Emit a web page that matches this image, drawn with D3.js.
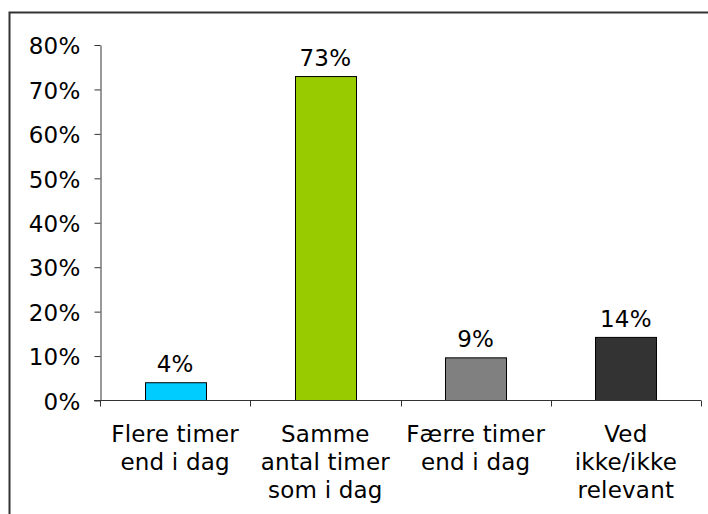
<!DOCTYPE html>
<html>
<head>
<meta charset="utf-8">
<script src="https://cdn.jsdelivr.net/npm/d3@7"></script>
<style>
html,body{margin:0;padding:0;background:#fff;overflow:hidden;}
svg{display:block;}
text{font-family:"DejaVu Sans",Verdana,sans-serif;fill:#000;letter-spacing:0.2px;}
</style>
</head>
<body>
<svg id="chart" width="708" height="514"></svg>
<script>
const categories = [
  ["Flere timer", "end i dag"],
  ["Samme", "antal timer", "som i dag"],
  ["Færre timer", "end i dag"],
  ["Ved", "ikke/ikke", "relevant"]
];
const values = [4.0, 72.9, 9.6, 14.2];
const valueLabels = ["4%", "73%", "9%", "14%"];
const colors = ["#00CCFF", "#99CC00", "#808080", "#333333"];
const yTicks = [0, 10, 20, 30, 40, 50, 60, 70, 80];

const svg = d3.select("#chart");
const fs = 23;

// outer frame
svg.append("rect")
  .attr("x", 9.5).attr("y", 12.5)
  .attr("width", 720).attr("height", 520)
  .attr("fill", "none").attr("stroke", "#333").attr("stroke-width", 2);

const xOuter = d3.scaleBand().domain(d3.range(categories.length)).range([100, 701]);
const y = d3.scaleLinear().domain([0, 80]).range([400, 44.5]);

// bars
svg.selectAll("rect.bar").data(values).join("rect")
  .attr("class", "bar")
  .attr("x", (d, i) => Math.round(xOuter(i) + xOuter.bandwidth() / 2 - 30.5) + 0.5)
  .attr("y", d => y(d) + 0.5)
  .attr("width", 61)
  .attr("height", d => y(0) - y(d))
  .attr("fill", (d, i) => colors[i])
  .attr("stroke", "#000").attr("stroke-width", 1);

// value labels
svg.selectAll("text.val").data(values).join("text")
  .attr("class", "val")
  .attr("x", (d, i) => xOuter(i) + xOuter.bandwidth() / 2)
  .attr("y", d => y(d) - 10)
  .attr("text-anchor", "middle")
  .attr("font-size", fs)
  .text((d, i) => valueLabels[i]);

// y axis
const yAxis = svg.append("g").attr("transform", "translate(100.5,0.5)")
  .call(d3.axisLeft(y).tickValues(yTicks).tickFormat(d => d + "%").tickSize(6).tickSizeOuter(0));
yAxis.select(".domain").attr("stroke", "#333");
yAxis.selectAll(".tick line").attr("stroke", "#333");
yAxis.selectAll(".tick text")
  .attr("font-size", fs)
  .attr("font-family", "DejaVu Sans, Verdana, sans-serif")
  .attr("fill", "#000")
  .attr("x", -20)
  .attr("dy", "0.38em");

// x axis
const xAxisG = svg.append("g").attr("transform", "translate(0," + (y(0) + 0.5) + ")");
xAxisG.append("line").attr("x1", 94).attr("x2", 701).attr("y1", 0).attr("y2", 0).attr("stroke", "#333");
const bounds = d3.range(categories.length + 1).map(i => i < categories.length ? xOuter(i) : xOuter.range()[1]);
xAxisG.selectAll("line.tick").data(bounds).join("line")
  .attr("class", "tick")
  .attr("x1", d => Math.round(d) + 0.5).attr("x2", d => Math.round(d) + 0.5)
  .attr("y1", 0).attr("y2", 6).attr("stroke", "#333");

// category labels
categories.forEach((lines, i) => {
  const t = svg.append("text")
    .attr("text-anchor", "middle")
    .attr("font-size", fs)
    .attr("x", xOuter(i) + xOuter.bandwidth() / 2)
    .attr("y", 442);
  lines.forEach((l, j) => {
    t.append("tspan")
      .attr("x", xOuter(i) + xOuter.bandwidth() / 2)
      .attr("y", 442 + j * 28)
      .text(l);
  });
});
</script>
</body>
</html>
